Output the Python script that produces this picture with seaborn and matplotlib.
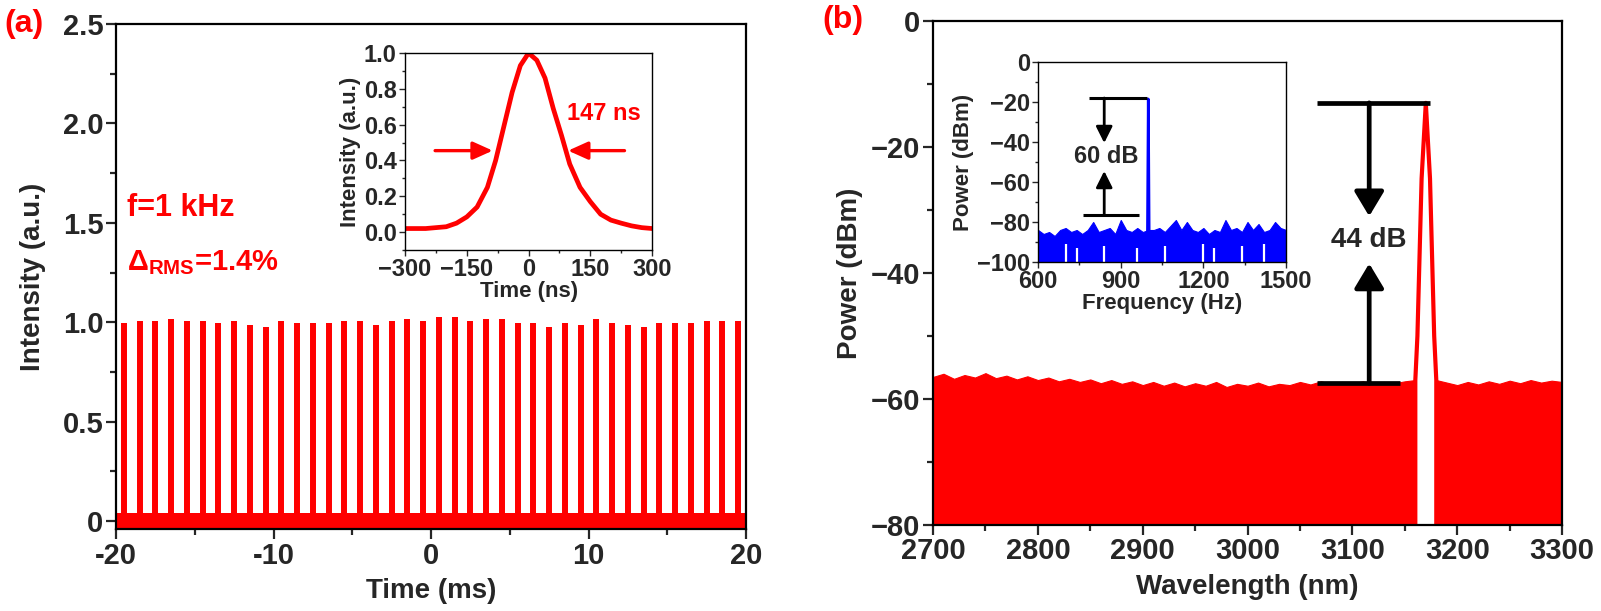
import numpy as np
import pandas as pd
import seaborn as sns
import matplotlib.pyplot as plt
from matplotlib.ticker import MultipleLocator

# ---------------- panel (a): pulse train ----------------
pulse_t = [-19.5, -18.5, -17.5, -16.5, -15.5, -14.5, -13.5, -12.5, -11.5, -10.5,
           -9.5, -8.5, -7.5, -6.5, -5.5, -4.5, -3.5, -2.5, -1.5, -0.5,
           0.5, 1.5, 2.5, 3.5, 4.5, 5.5, 6.5, 7.5, 8.5, 9.5,
           10.5, 11.5, 12.5, 13.5, 14.5, 15.5, 16.5, 17.5, 18.5, 19.5]
pulse_h = [0.998, 1.007, 1.007, 1.018, 1.007, 1.007, 0.997, 1.007, 0.987, 0.975,
           1.007, 0.997, 0.997, 0.997, 1.007, 1.007, 0.987, 1.007, 1.018, 1.007,
           1.028, 1.028, 1.007, 1.018, 1.018, 0.997, 0.997, 0.975, 0.997, 0.987,
           1.018, 0.997, 0.987, 0.975, 0.997, 0.997, 0.997, 1.007, 1.007, 1.007]
noise_band_a = (-0.035, 0.04)

# inset (a): single pulse
ins_t = [-300, -250, -200, -175, -150, -125, -100, -80, -60, -40, -20, 0,
         20, 40, 60, 80, 100, 125, 150, 175, 200, 225, 250, 275, 300]
ins_i = [0.02, 0.02, 0.03, 0.05, 0.085, 0.14, 0.25, 0.40, 0.59, 0.78, 0.93, 1.0,
         0.96, 0.86, 0.69, 0.54, 0.38, 0.25, 0.17, 0.10, 0.067, 0.05, 0.035, 0.025, 0.02]

# ---------------- panel (b): optical spectrum ----------------
wl_floor = [2700, 2710, 2720, 2730, 2740, 2750, 2760, 2770, 2780, 2790,
            2800, 2810, 2820, 2830, 2840, 2850, 2860, 2870, 2880, 2890,
            2900, 2910, 2920, 2930, 2940, 2950, 2960, 2970, 2980, 2990,
            3000, 3010, 3020, 3030, 3040, 3050, 3060, 3070, 3080, 3090,
            3100, 3110, 3120, 3130, 3140, 3150, 3160,
            3180, 3190, 3200, 3210, 3220, 3230, 3240, 3250, 3260, 3270,
            3280, 3290, 3300]
floor_db = [-56.5, -56.0, -56.8, -56.2, -56.6, -55.9, -56.7, -56.3, -56.9, -56.4,
            -57.0, -56.6, -57.2, -56.8, -57.3, -56.9, -57.5, -57.0, -57.6, -57.2,
            -57.8, -57.3, -57.9, -57.4, -58.0, -57.5, -57.9, -57.3, -58.1, -57.6,
            -57.9, -57.4, -58.0, -57.6, -57.8, -57.3, -57.7, -57.2, -57.6, -57.3,
            -57.5, -57.2, -57.6, -57.3, -57.5, -57.2, -57.0,
            -57.0, -57.4, -57.8, -57.3, -57.7, -57.2, -57.6, -57.1, -57.5, -57.0,
            -57.4, -57.1, -57.3]
peak_wl = [3160, 3160, 3162, 3166, 3170, 3174, 3178, 3180, 3180]
peak_db = [-80, -57, -50, -25, -13, -25, -50, -57, -80]

# inset (b): RF spectrum
rf_f = [600, 620, 640, 660, 680, 700, 720, 740, 760, 780, 800, 820, 840, 860, 880,
        900, 920, 940, 960, 980, 1000, 1020, 1040, 1060, 1080, 1100, 1120, 1140, 1160,
        1180, 1200, 1220, 1240, 1260, 1280, 1300, 1320, 1340, 1360, 1380, 1400, 1420,
        1440, 1460, 1480, 1500]
rf_top = [-84, -86, -85, -87, -84, -83, -85, -84, -86, -84, -80, -85, -84, -83, -86,
          -79, -84, -85, -83, -85, -84, -84, -83, -85, -82, -79, -84, -80, -84,
          -85, -83, -86, -84, -85, -79, -84, -83, -85, -80, -84, -81, -85,
          -84, -80, -83, -84]
# lower edge of the noise trace (narrow white slits where it lifts above -100)
rf_bot = [-100, -100, -100, -100, -100, -91, -100, -93, -100, -100, -100, -100, -92, -100, -100,
          -100, -100, -100, -93, -100, -100, -100, -100, -92, -100, -100, -100, -100, -100,
          -100, -91, -100, -93, -100, -100, -100, -100, -92, -100, -100, -100, -91,
          -100, -100, -100, -100]
rf_peak_f = [997, 1000, 1003]
rf_peak_db = [-85, -18.5, -85]

RED = '#ff0000'
BLUE = '#0000ff'

sns.set_style('ticks')
plt.rcParams['font.family'] = ['Liberation Sans', 'DejaVu Sans']
plt.rcParams['font.weight'] = 'bold'
plt.rcParams['axes.labelweight'] = 'bold'
plt.rcParams['mathtext.fontset'] = 'custom'
plt.rcParams['mathtext.rm'] = 'Liberation Sans:bold'
plt.rcParams['mathtext.it'] = 'Liberation Sans:bold'
plt.rcParams['mathtext.bf'] = 'Liberation Sans:bold'


def style_axes(ax, fs, lw, maj, mino):
    for s in ax.spines.values():
        s.set_linewidth(lw)
        s.set_color('black')
    ax.tick_params(which='major', direction='out', length=maj, width=lw,
                   labelsize=fs, pad=2, top=False, right=False)
    ax.tick_params(which='minor', direction='out', length=mino, width=lw,
                   top=False, right=False)
    for lab in ax.get_xticklabels() + ax.get_yticklabels():
        lab.set_fontweight('bold')


fig = plt.figure(figsize=(16.01, 6.11), dpi=100)

# ---------------- (a) ----------------
ax1 = fig.add_axes([0.0725, 0.1342, 0.3935, 0.8265])
ax1.fill_between([-20, 20], noise_band_a[0], noise_band_a[1], color=RED, lw=0)
ax1.vlines(pulse_t, 0, pulse_h, color=RED, lw=4.3)
ax1.set_xlim(-20, 20)
ax1.set_ylim(-0.04, 2.5)
ax1.set_xticks([-20, -10, 0, 10, 20])
ax1.set_xticklabels(['-20', '-10', '0', '10', '20'])
ax1.set_yticks([0, 0.5, 1.0, 1.5, 2.0, 2.5])
ax1.set_yticklabels(['0', '0.5', '1.0', '1.5', '2.0', '2.5'])
ax1.xaxis.set_minor_locator(MultipleLocator(5))
ax1.yaxis.set_minor_locator(MultipleLocator(0.25))
style_axes(ax1, 21, 1.6, 7, 4)
ax1.set_xlabel('Time (ms)', fontsize=20, labelpad=6)
ax1.set_ylabel('Intensity (a.u.)', fontsize=20, labelpad=12)
ax1.text(-19.3, 1.575, 'f=1 kHz', color=RED, fontsize=22, fontweight='bold', va='center')
ax1.text(-19.3, 1.30, r'$\Delta_{\rm RMS}$=1.4%', color=RED, fontsize=21,
         fontweight='bold', va='center')
fig.text(0.003, 1 - 24 / 611, '(a)', color=RED, fontsize=23, fontweight='bold', va='center')

# inset (a)
axi1 = fig.add_axes([0.2530, 0.5908, 0.1543, 0.3224])
df_pulse = pd.DataFrame({'t': ins_t, 'i': ins_i})
sns.lineplot(data=df_pulse, x='t', y='i', ax=axi1, color=RED, lw=3.4)
axi1.set_xlim(-300, 300)
axi1.set_ylim(-0.1, 1.0)
axi1.set_xticks([-300, -150, 0, 150, 300])
axi1.set_yticks([0.0, 0.2, 0.4, 0.6, 0.8, 1.0])
axi1.set_yticklabels(['0.0', '0.2', '0.4', '0.6', '0.8', '1.0'])
axi1.xaxis.set_minor_locator(MultipleLocator(75))
axi1.yaxis.set_minor_locator(MultipleLocator(0.1))
style_axes(axi1, 17, 1.0, 4, 2.5)
axi1.set_xlabel('Time (ns)', fontsize=16, labelpad=0)
axi1.set_ylabel('Intensity (a.u.)', fontsize=16, labelpad=2)
red_arrow = dict(arrowstyle='-|>,head_length=1.0,head_width=0.45', color=RED, lw=2.4,
                 mutation_scale=12, shrinkA=0, shrinkB=0)
axi1.annotate('', xy=(-87, 0.455), xytext=(-227, 0.455), arrowprops=red_arrow)
axi1.annotate('', xy=(96, 0.455), xytext=(233, 0.455), arrowprops=red_arrow)
axi1.text(182, 0.66, '147 ns', color=RED, fontsize=17, fontweight='bold',
          ha='center', va='center')

# ---------------- (b) ----------------
ax2 = fig.add_axes([0.5828, 0.1408, 0.3929, 0.8249])
df_floor = pd.DataFrame({'wl': wl_floor, 'db': floor_db})
left = df_floor[df_floor['wl'] <= 3160]
right = df_floor[df_floor['wl'] >= 3180]
for part in (left, right):
    ax2.fill_between(part['wl'], -80, part['db'], color=RED, lw=0.8, edgecolor=RED)
df_peak = pd.DataFrame({'wl': peak_wl, 'db': peak_db})
sns.lineplot(data=df_peak, x='wl', y='db', ax=ax2, color=RED, lw=3.0,
             sort=False, estimator=None)
ax2.set_xlim(2700, 3300)
ax2.set_ylim(-80, 0)
ax2.set_xticks([2700, 2800, 2900, 3000, 3100, 3200, 3300])
ax2.set_yticks([-80, -60, -40, -20, 0])
ax2.xaxis.set_minor_locator(MultipleLocator(50))
ax2.yaxis.set_minor_locator(MultipleLocator(10))
style_axes(ax2, 21, 1.6, 7, 4)
ax2.set_xlabel('Wavelength (nm)', fontsize=20, labelpad=6)
ax2.set_ylabel('Power (dBm)', fontsize=20, labelpad=6)
fig.text(822 / 1601, 1 - 20 / 611, '(b)', color=RED, fontsize=23, fontweight='bold', va='center')

ax2.plot([3066, 3174], [-13, -13], color='black', lw=3.4, solid_capstyle='butt')
ax2.plot([3066, 3145], [-57.5, -57.5], color='black', lw=3.4, solid_capstyle='butt')
blk_arrow = dict(arrowstyle='-|>,head_length=0.75,head_width=0.45', color='black', lw=3.4,
                 mutation_scale=20, shrinkA=0, shrinkB=0)
ax2.annotate('', xy=(3116, -31), xytext=(3116, -13), arrowprops=blk_arrow)
ax2.annotate('', xy=(3116, -38.5), xytext=(3116, -57.5), arrowprops=blk_arrow)
ax2.text(3116, -34.8, '44 dB', fontsize=20, fontweight='bold', ha='center', va='center')

# inset (b)
axi2 = fig.add_axes([0.6484, 0.5712, 0.1549, 0.3273])
df_rf_band = pd.DataFrame({'f': rf_f, 'top': rf_top, 'bot': rf_bot})
axi2.fill_between(df_rf_band['f'], -100, df_rf_band['top'], color=BLUE,
                  lw=0.8, edgecolor=BLUE)
slits = df_rf_band[df_rf_band['bot'] > -100]
axi2.vlines(slits['f'], -100, slits['bot'], color='white', lw=1.6)
df_rf = pd.DataFrame({'f': rf_peak_f, 'db': rf_peak_db})
sns.lineplot(data=df_rf, x='f', y='db', ax=axi2, color=BLUE, lw=2.0)
axi2.set_xlim(600, 1500)
axi2.set_ylim(-100, 0)
axi2.set_xticks([600, 900, 1200, 1500])
axi2.set_yticks([-100, -80, -60, -40, -20, 0])
axi2.xaxis.set_minor_locator(MultipleLocator(150))
axi2.yaxis.set_minor_locator(MultipleLocator(10))
style_axes(axi2, 17, 1.0, 4, 2.5)
axi2.set_xlabel('Frequency (Hz)', fontsize=16, labelpad=0)
axi2.set_ylabel('Power (dBm)', fontsize=16, labelpad=2)
axi2.plot([785, 995], [-18, -18], color='black', lw=2.2, solid_capstyle='butt')
axi2.plot([763, 966], [-76.5, -76.5], color='black', lw=2.2, solid_capstyle='butt')
blk_small = dict(arrowstyle='-|>,head_length=0.9,head_width=0.45', color='black', lw=2.0,
                 mutation_scale=11, shrinkA=0, shrinkB=0)
axi2.annotate('', xy=(840, -40.5), xytext=(840, -18), arrowprops=blk_small)
axi2.annotate('', xy=(840, -54.5), xytext=(840, -76.5), arrowprops=blk_small)
axi2.text(847, -47, '60 dB', fontsize=17, fontweight='bold', ha='center', va='center')

fig.savefig('out.png', dpi=100)
